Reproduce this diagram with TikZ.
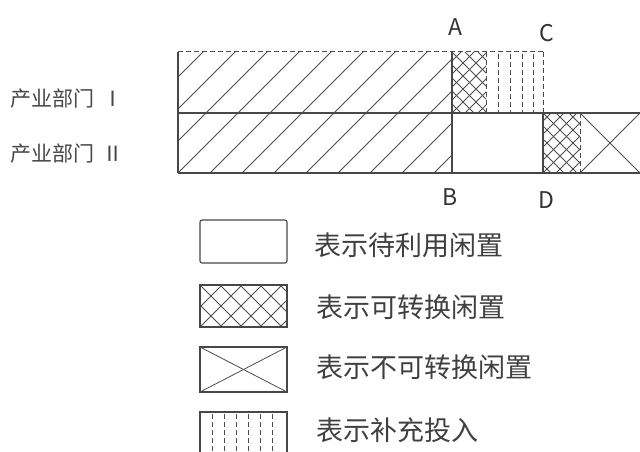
\documentclass[tikz,border=0pt]{standalone}
\usepackage{fontspec}
\newfontfamily\cjk{Noto Sans CJK SC}
\begin{document}
\begin{tikzpicture}[x=1pt,y=-1pt,
  ln/.style={draw=black!72, line width=1.1pt},
  hat/.style={draw=black!70, line width=0.8pt},
  dsh/.style={draw=black!70, line width=1pt, dash pattern=on 5pt off 3pt},
  lbl/.style={text=black!75, font=\cjk\fontsize{27}{27}\selectfont, anchor=west, inner sep=0pt},
  row/.style={text=black!72, font=\cjk\fontsize{21}{21}\selectfont, anchor=west, inner sep=0pt},
  let/.style={text=black!80, font=\cjk\fontsize{23}{23}\selectfont, inner sep=0pt}]
\useasboundingbox (0,0) rectangle (640,452);
% coordinates
\coordinate (TL) at (178,52);
\coordinate (ML) at (178,113);
\coordinate (BL) at (178,173);
\coordinate (A) at (452,52);
\coordinate (Am) at (452,113);
\coordinate (B) at (452,173);
\coordinate (Q) at (486,52);
\coordinate (Qm) at (486,113);
\coordinate (C) at (543,52);
\coordinate (Cm) at (543,113);
\coordinate (D) at (543,173);
\coordinate (E) at (580,113);
\coordinate (Eb) at (580,173);
\coordinate (R) at (640,113);
\coordinate (Rb) at (640,173);
% diagonal hatch
\begin{scope}
\clip (TL) rectangle (B);
\foreach \i in {-8,...,10} \draw[hat] (178+32*\i,173) -- ++(135,-135);
\end{scope}
% crosshatch upper
\begin{scope}
\clip (A) rectangle (Qm);
\foreach \i in {-8,...,6} {\draw[hat] (452+13*\i,113) -- ++(75,-75);
  \draw[hat] (452+13*\i,52) -- ++(75,75);}
\end{scope}
% crosshatch lower
\begin{scope}
\clip (Cm) rectangle (Eb);
\foreach \i in {-8,...,6} {\draw[hat] (543+13*\i,173) -- ++(75,-75);
  \draw[hat] (543+13*\i,113) -- ++(75,75);}
\end{scope}
% vertical dashed
\foreach \x in {498,510,522,533} \draw[dsh] (\x,54) -- (\x,113);
% X
\draw[hat] (E) -- (Rb);
\draw[hat] (Eb) -- (R);
% borders
\draw[dsh] (TL) -- (C);
\draw[ln] (TL) -- (BL);
\draw[ln] (ML) -- (R);
\draw[ln] (BL) -- (Rb);
\draw[ln] (A) -- (B);
\draw[dsh] (Q) -- (Qm);
\draw[dsh] (C) -- (Cm);
\draw[ln] (Cm) -- (D);
\draw[dsh] (E) -- (Eb);
% letters
\node[let] (lA) at (455,27) {A};
\node[let] (lC) at (547,33) {C};
\node[let] (lB) at (450,197) {B};
\node[let] (lD) at (546,200) {D};
% row labels
\node[row] (r1) at (10,99) {产业部门\hspace{8pt}Ⅰ};
\node[row] (r2) at (10,154) {产业部门\hspace{8pt}Ⅱ};
% legend
\draw[ln, rounded corners=2pt] (200,220) rectangle (287,263);
\node[lbl] (t1) at (314,245) {表示待利用闲置};
\begin{scope}
\clip (200,285) rectangle (287,327);
\foreach \i in {-6,...,8} {\draw[hat] (200+20*\i,327) -- ++(60,-60);
  \draw[hat] (200+20*\i,285) -- ++(60,60);}
\end{scope}
\draw[ln] (200,285) rectangle (287,327);
\node[lbl] (t2) at (316,307) {表示可转换闲置};
\draw[ln] (200,347) rectangle (287,392);
\draw[hat] (200,347) -- (287,392);
\draw[hat] (200,392) -- (287,347);
\node[lbl] (t3) at (316,367) {表示不可转换闲置};
\draw[ln] (200,452) -- (200,412) -- (287,412) -- (287,452);
\foreach \x in {212,224,236,248,260,272} \draw[dsh] (\x,414) -- (\x,452);
\node[lbl] (t4) at (316,430) {表示补充投入};
\end{tikzpicture}
\end{document}
